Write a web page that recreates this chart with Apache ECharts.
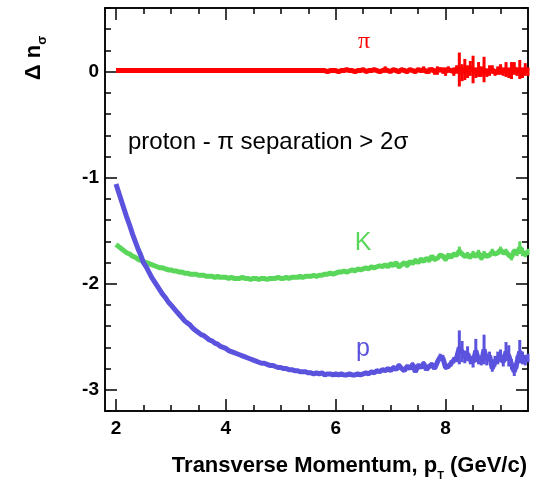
<!DOCTYPE html>
<html>
<head>
<meta charset="utf-8">
<script src="https://cdn.jsdelivr.net/npm/echarts@6/dist/echarts.min.js"></script>
<style>
  html, body { margin: 0; padding: 0; background: #fff; }
  #chart { width: 541px; height: 481px; }
</style>
</head>
<body>
<div id="chart"></div>
<script>
// transverse momentum bin centres (GeV/c)
const pt = [
  2.00,2.05,2.10,2.15,2.20,2.25,2.30,2.35,2.40,2.45,2.50,2.55,2.60,2.65,2.70,2.75,2.80,2.85,2.90,2.95,
  3.00,3.05,3.10,3.15,3.20,3.25,3.30,3.35,3.40,3.45,3.50,3.55,3.60,3.65,3.70,3.75,3.80,3.85,3.90,3.95,
  4.00,4.05,4.10,4.15,4.20,4.25,4.30,4.35,4.40,4.45,4.50,4.55,4.60,4.65,4.70,4.75,4.80,4.85,4.90,4.95,
  5.00,5.05,5.10,5.15,5.20,5.25,5.30,5.35,5.40,5.45,5.50,5.55,5.60,5.65,5.70,5.75,5.80,5.85,5.90,5.95,
  6.00,6.05,6.10,6.15,6.20,6.25,6.30,6.35,6.40,6.45,6.50,6.55,6.60,6.65,6.70,6.75,6.80,6.85,6.90,6.95,
  7.00,7.05,7.10,7.15,7.20,7.25,7.30,7.35,7.40,7.45,7.50,7.55,7.60,7.65,7.70,7.75,7.80,7.85,7.90,7.95,
  8.00,8.05,8.10,8.15,8.20,8.25,8.30,8.35,8.40,8.45,8.50,8.55,8.60,8.65,8.70,8.75,8.80,8.85,8.90,8.95,
  9.00,9.05,9.10,9.15,9.20,9.25,9.30,9.35,9.40,9.45,9.50
];

// pion
const piVal = [
  0.01,0.01,0.01,0.01,0.01,0.01,0.01,0.01,0.01,0.01,0.01,0.01,0.01,0.01,0.01,0.01,0.01,0.01,0.01,0.01,
  0.01,0.01,0.01,0.01,0.01,0.01,0.01,0.01,0.01,0.01,0.01,0.01,0.01,0.01,0.01,0.01,0.01,0.01,0.01,0.01,
  0.01,0.01,0.01,0.01,0.01,0.01,0.01,0.01,0.01,0.01,0.01,0.01,0.01,0.01,0.01,0.01,0.01,0.01,0.01,0.01,
  0.01,0.01,0.01,0.01,0.01,0.01,0.01,0.01,0.01,0.01,0.01,0.01,0.01,0.01,0.01,0.01,0.01,0.00,0.01,0.01,
  0.01,0.00,0.01,0.01,0.02,0.01,0.01,0.00,0.01,0.01,0.02,0.00,0.01,0.01,0.02,0.01,0.00,0.01,0.02,0.01,
  0.00,0.02,0.01,0.00,0.02,0.01,0.00,0.02,0.01,0.00,0.02,0.01,0.02,0.00,0.01,0.02,0.00,0.01,0.02,0.01,
  0.00,0.02,0.01,0.00,0.02,0.02,-0.01,0.02,0.00,0.03,0.02,-0.01,0.02,0.00,0.02,-0.01,0.01,0.02,-0.01,0.01,
  0.02,0.00,0.02,-0.01,0.01,0.03,0.00,0.02,-0.01,0.02,0.00
];
const piErr = [
  0,0,0,0,0,0,0,0,0,0,0,0,0,0,0,0,0,0,0,0,
  0,0,0,0,0,0,0,0,0,0,0,0,0,0,0,0,0,0,0,0,
  0,0,0,0,0,0,0,0,0,0,0,0,0,0,0,0,0,0,0,0,
  0,0,0,0,0,0,0,0,0,0,0,0,0,0,0,0,0,0.01,0.01,0.01,
  0,0,0,0,0,0,0,0,0,0,0,0,0,0,0,0,0,0,0.03,0,
  0,0,0.02,0.02,0,0.02,0.02,0,0.01,0.02,0.01,0.02,0.03,0.02,0.03,0.02,0.03,0.04,0.02,0.03,
  0.04,0.03,0.02,0.04,0.04,0.16,0.08,0.10,0.06,0.07,0.13,0.05,0.07,0.05,0.12,0.04,0.05,0.04,0.03,0.04,
  0.05,0.04,0.07,0.05,0.08,0.06,0.04,0.09,0.05,0.06,0.04
];

// kaon
const kVal = [
  -1.63,-1.65,-1.67,-1.69,-1.71,-1.72,-1.74,-1.75,-1.77,-1.78,-1.79,-1.80,-1.81,-1.82,-1.83,-1.84,-1.85,-1.85,-1.86,-1.87,
  -1.87,-1.88,-1.88,-1.89,-1.89,-1.90,-1.90,-1.91,-1.91,-1.91,-1.92,-1.92,-1.92,-1.93,-1.93,-1.93,-1.94,-1.93,-1.94,-1.94,
  -1.94,-1.95,-1.94,-1.95,-1.95,-1.95,-1.94,-1.95,-1.95,-1.96,-1.95,-1.95,-1.96,-1.95,-1.95,-1.96,-1.95,-1.95,-1.95,-1.94,
  -1.95,-1.95,-1.94,-1.95,-1.94,-1.94,-1.94,-1.93,-1.94,-1.93,-1.93,-1.93,-1.92,-1.93,-1.92,-1.92,-1.91,-1.91,-1.90,-1.91,
  -1.90,-1.89,-1.89,-1.88,-1.89,-1.88,-1.87,-1.88,-1.86,-1.87,-1.86,-1.85,-1.86,-1.84,-1.85,-1.84,-1.83,-1.84,-1.82,-1.84,
  -1.81,-1.83,-1.80,-1.84,-1.82,-1.80,-1.83,-1.79,-1.81,-1.78,-1.80,-1.77,-1.79,-1.76,-1.78,-1.74,-1.77,-1.76,-1.73,-1.74,
  -1.77,-1.73,-1.75,-1.72,-1.73,-1.69,-1.72,-1.74,-1.73,-1.75,-1.72,-1.74,-1.71,-1.76,-1.72,-1.74,-1.73,-1.70,-1.72,-1.71,
  -1.68,-1.71,-1.70,-1.73,-1.75,-1.69,-1.71,-1.66,-1.70,-1.72,-1.70
];
const kErr = [
  0,0,0,0,0,0,0,0,0,0,0,0,0,0,0,0,0,0,0,0,
  0,0,0,0,0,0,0,0,0,0,0,0,0,0,0,0,0,0,0,0,
  0,0,0,0,0,0,0,0,0,0,0,0,0,0,0,0,0,0,0,0,
  0,0,0,0,0,0,0,0,0,0,0,0,0,0,0,0,0,0,0,0,
  0,0,0,0,0,0,0,0,0,0,0.01,0,0,0.01,0,0,0.01,0,0,0.01,
  0.01,0,0.01,0.02,0,0.01,0.02,0,0.01,0.02,0.01,0.02,0,0.01,0.02,0.01,0.02,0.01,0.02,0.01,
  0.02,0.02,0.01,0.02,0.02,0.04,0.02,0.02,0.03,0.02,0.03,0.02,0.03,0.02,0.03,0.02,0.02,0.03,0.02,0.02,
  0.03,0.02,0.03,0.02,0.03,0.02,0.03,0.06,0.04,0.03,0.03
];

// proton
const pVal = [
  -1.06,-1.14,-1.22,-1.30,-1.38,-1.45,-1.53,-1.60,-1.67,-1.73,-1.80,-1.84,-1.89,-1.94,-1.98,-2.02,-2.06,-2.10,-2.13,-2.17,
  -2.20,-2.23,-2.26,-2.29,-2.32,-2.35,-2.37,-2.39,-2.42,-2.44,-2.46,-2.48,-2.49,-2.51,-2.53,-2.54,-2.56,-2.57,-2.59,-2.60,
  -2.61,-2.63,-2.64,-2.65,-2.66,-2.67,-2.68,-2.69,-2.70,-2.71,-2.72,-2.73,-2.74,-2.75,-2.75,-2.76,-2.77,-2.77,-2.78,-2.79,
  -2.79,-2.80,-2.80,-2.81,-2.81,-2.82,-2.82,-2.83,-2.83,-2.83,-2.84,-2.84,-2.85,-2.84,-2.85,-2.84,-2.86,-2.85,-2.85,-2.86,
  -2.85,-2.86,-2.85,-2.86,-2.86,-2.85,-2.86,-2.86,-2.85,-2.86,-2.85,-2.84,-2.85,-2.83,-2.84,-2.82,-2.83,-2.81,-2.82,-2.80,
  -2.82,-2.79,-2.81,-2.77,-2.80,-2.82,-2.78,-2.80,-2.76,-2.83,-2.77,-2.79,-2.75,-2.81,-2.78,-2.76,-2.80,-2.74,-2.69,-2.70,
  -2.79,-2.78,-2.75,-2.72,-2.70,-2.60,-2.64,-2.69,-2.66,-2.72,-2.74,-2.63,-2.72,-2.74,-2.62,-2.72,-2.68,-2.80,-2.73,-2.70,
  -2.68,-2.74,-2.64,-2.68,-2.76,-2.83,-2.74,-2.64,-2.70,-2.72,-2.70
];
const pErr = [
  0,0,0,0,0,0,0,0,0,0,0,0,0,0,0,0,0,0,0,0,
  0,0,0,0,0,0,0,0,0,0,0,0,0,0,0,0,0,0,0,0,
  0,0,0,0,0,0,0,0,0,0,0,0,0,0,0,0,0,0,0,0,
  0,0,0,0,0,0,0,0,0,0,0,0,0,0,0,0,0,0,0,0,
  0,0,0,0,0,0,0,0,0,0,0,0,0.01,0,0,0,0,0.01,0,0,
  0.01,0.02,0.01,0.02,0.01,0.01,0.02,0.01,0.02,0.01,0.02,0.01,0.02,0.01,0.02,0.02,0.01,0.02,0.03,0.03,
  0.02,0.02,0.03,0.03,0.04,0.16,0.10,0.06,0.07,0.04,0.05,0.11,0.04,0.03,0.14,0.05,0.04,0.03,0.05,0.06,
  0.06,0.04,0.09,0.10,0.05,0.04,0.06,0.11,0.06,0.05,0.04
];

const xMajor = [2, 4, 6, 8];
const xMinor = [2.5, 3, 3.5, 4.5, 5, 5.5, 6.5, 7, 7.5, 8.5, 9];
const yMajor = [-3, -2, -1, 0];
const yMinor = [-3.2, -2.8, -2.6, -2.4, -2.2, -1.8, -1.6, -1.4, -1.2, -0.8, -0.6, -0.4, -0.2, 0.2, 0.4, 0.6];

const FONT = '"Liberation Sans", Arial, Helvetica, sans-serif';
const RED = '#ff0000', GREEN = '#5ad65a', BLUE = '#5b53de';

function xAx(pos, ticks, len, labels) {
  return {
    type: 'value', min: 1.8, max: 9.5, position: pos,
    axisLine: { show: true, onZero: false, lineStyle: { color: '#000', width: 1.5 } },
    axisTick: { show: true, inside: true, length: len, customValues: ticks, lineStyle: { color: '#000', width: 1.5 } },
    axisLabel: labels
      ? { show: true, customValues: ticks, color: '#000', fontFamily: FONT, fontWeight: 'bold', fontSize: 19, margin: 8 }
      : { show: false },
    splitLine: { show: false }
  }
}
function yAx(pos, ticks, len, labels) {
  return {
    type: 'value', min: -3.2, max: 0.6, position: pos,
    axisLine: { show: true, onZero: false, lineStyle: { color: '#000', width: 1.5 } },
    axisTick: { show: true, inside: true, length: len, customValues: ticks, lineStyle: { color: '#000', width: 1.5 } },
    axisLabel: labels
      ? { show: true, customValues: ticks, color: '#000', fontFamily: FONT, fontWeight: 'bold', fontSize: 19, margin: 6 }
      : { show: false },
    splitLine: { show: false }
  }
}

function curve(name, vals, color) {
  return {
    name: name, type: 'line', xAxisIndex: 0, yAxisIndex: 0,
    data: pt.map((x, i) => [x, vals[i]]),
    showSymbol: false, z: 3,
    lineStyle: { color: color, width: 5 },
    animation: false
  }
}
function errBars(name, vals, errs, color) {
  return {
    name: name + ' err', type: 'custom', xAxisIndex: 0, yAxisIndex: 0, z: 4,
    data: pt.map((x, i) => [x, vals[i], errs[i]]),
    renderItem: function (params, api) {
      const e = api.value(2)
      if (!e) return null
      const top = api.coord([api.value(0), api.value(1) + e])
      const bot = api.coord([api.value(0), api.value(1) - e])
      return { type: 'rect', shape: { x: top[0] - 1.5, y: top[1], width: 3, height: bot[1] - top[1] }, style: { fill: color } }
    },
    animation: false
  }
}

const chart = echarts.init(document.getElementById('chart'), null, { renderer: 'canvas' })
chart.setOption({
  animation: false,
  backgroundColor: '#fff',
  grid: { left: 105, right: 13, top: 8, bottom: 70, containLabel: false },
  xAxis: [
    xAx('bottom', xMajor, 12, true),
    xAx('bottom', xMinor, 6, false),
    xAx('top', xMajor, 12, false),
    xAx('top', xMinor, 6, false)
  ],
  yAxis: [
    yAx('left', yMajor, 12, true),
    yAx('left', yMinor, 6, false),
    yAx('right', yMajor, 12, false),
    yAx('right', yMinor, 6, false)
  ],
  series: [
    curve('pi', piVal, RED),
    errBars('pi', piVal, piErr, RED),
    curve('K', kVal, GREEN),
    errBars('K', kVal, kErr, GREEN),
    curve('p', pVal, BLUE),
    errBars('p', pVal, pErr, BLUE)
  ],
  graphic: [
    {
      type: 'text', x: 34, y: 58, rotation: Math.PI / 2,
      style: {
        text: '{m|Δ n}{s|σ}', align: 'center', verticalAlign: 'middle', textAlign: 'center', textVerticalAlign: 'middle',
        rich: {
          m: { fontFamily: FONT, fontWeight: 'bold', fontSize: 22, lineHeight: 30, verticalAlign: 'middle', fill: '#000' },
          s: { fontFamily: FONT, fontWeight: 'bold', fontSize: 13, lineHeight: 13, verticalAlign: 'bottom', fill: '#000' }
        }
      }
    },
    {
      type: 'text', x: 527, y: 466,
      style: {
        text: '{m|Transverse Momentum, p}{s|T}{m| (GeV/c)}', align: 'right', verticalAlign: 'middle', textAlign: 'right', textVerticalAlign: 'middle',
        rich: {
          m: { fontFamily: FONT, fontWeight: 'bold', fontSize: 22, lineHeight: 30, verticalAlign: 'middle', fill: '#000' },
          s: { fontFamily: FONT, fontWeight: 'bold', fontSize: 11, lineHeight: 11, verticalAlign: 'bottom', fill: '#000' }
        }
      }
    },
    {
      type: 'text', x: 128, y: 142,
      style: { text: 'proton - π separation > 2σ', fontFamily: FONT, fontSize: 24, fill: '#000', align: 'left', verticalAlign: 'middle', textAlign: 'left', textVerticalAlign: 'middle' }
    },
    {
      type: 'text', x: 364, y: 42,
      style: { text: 'π', fontFamily: '"Liberation Serif", serif', fontSize: 24, fill: RED, align: 'center', verticalAlign: 'middle', textAlign: 'center', textVerticalAlign: 'middle' }
    },
    {
      type: 'text', x: 363, y: 243,
      style: { text: 'K', fontFamily: FONT, fontSize: 25, fill: GREEN, align: 'center', verticalAlign: 'middle', textAlign: 'center', textVerticalAlign: 'middle' }
    },
    {
      type: 'text', x: 363, y: 349,
      style: { text: 'p', fontFamily: FONT, fontSize: 25, fill: BLUE, align: 'center', verticalAlign: 'middle', textAlign: 'center', textVerticalAlign: 'middle' }
    }
  ]
})
</script>
</body>
</html>
